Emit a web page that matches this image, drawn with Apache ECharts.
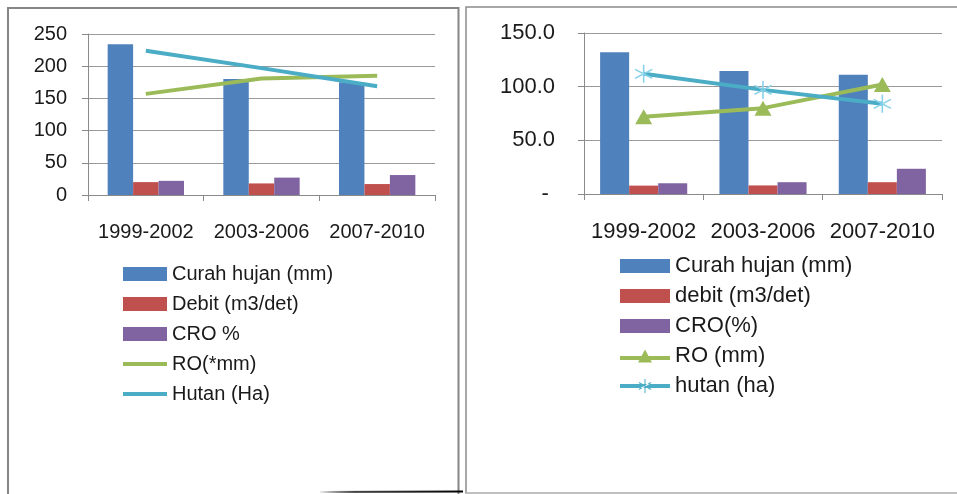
<!DOCTYPE html>
<html>
<head>
<meta charset="utf-8">
<script src="https://cdn.jsdelivr.net/npm/echarts@6/dist/echarts.min.js"></script>
<style>
html,body{margin:0;padding:0;background:#fff;}
#c{width:957px;height:494px;}
</style>
</head>
<body>
<div id="c"></div>
<script>
// ---- data ----
const categories = ['1999-2002', '2003-2006', '2007-2010'];

// left chart
const leftNames = ['Curah hujan (mm)', 'Debit (m3/det)', 'CRO %', 'RO(*mm)', 'Hutan (Ha)'];
const curahL = [234, 180, 175];
const debitL = [20, 18, 17];
const croL = [22, 27, 31];
const roL = [157, 181, 185];
const hutanL = [224, 197, 169];
const leftTicks = [0, 50, 100, 150, 200, 250];

// right chart
const rightNames = ['Curah hujan (mm)', 'debit (m3/det)', 'CRO(%)', 'RO (mm)', 'hutan (ha)'];
const curahR = [132, 114.5, 111];
const debitR = [7.8, 8, 11];
const croR = [10, 11, 23.5];
const roR = [72, 80, 102];
const hutanR = [112, 97, 84];
const rightTicks = [0, 50, 100, 150];

// ---- styles ----
const C = { blue: '#4F81BD', red: '#C0504D', purple: '#8064A2', green: '#9BBB59', cyan: '#4BACC6' };
const FONT = 'Liberation Sans, Arial, sans-serif';
const starPath = 'path://M9.2 0L10.8 0L10.8 20L9.2 20Z' +
  'M19.06 5.69L18.26 4.31L0.94 14.31L1.74 15.69Z' +
  'M0.94 5.69L1.74 4.31L19.06 14.31L18.26 15.69Z';
// legend icons (degenerate subpaths keep the bounding box)
const lineIcon = 'path://M0 0L0.01 0L0 0Z M0 5H44V9H0Z M0 14L0.01 14L0 14Z';
const triIcon = 'path://M0 0L0.01 0L0 0Z M0 7H50V11H0Z M18 13.5L25 0.5L32 13.5Z M0 14L0.01 14L0 14Z';
const starIcon = 'path://M0 0L0.01 0L0 0Z M0 5H50V9H0Z M24.5 0H25.5V14H24.5Z' +
  'M31.31 3.93L30.81 3.07L18.69 10.07L19.19 10.93Z' +
  'M18.69 3.93L19.19 3.07L31.31 10.07L30.81 10.93Z M0 14L0.01 14L0 14Z';

const chart = echarts.init(document.getElementById('c'), null, { renderer: 'canvas' });

function catAxis(gi, fs, margin) {
  return {
    type: 'category', gridIndex: gi, data: categories,
    boundaryGap: true,
    axisLine: { lineStyle: { color: '#8a8a8a', width: 1 } },
    axisTick: { show: true, length: 6, alignWithLabel: false, lineStyle: { color: '#8a8a8a' } },
    axisLabel: { fontFamily: FONT, fontSize: fs, color: '#1a1a1a', margin: margin, interval: 0 }
  };
}
function valAxis(gi, ticks, fs, margin, fmt) {
  return {
    type: 'value', gridIndex: gi,
    min: ticks[0], max: ticks[ticks.length - 1], interval: ticks[1] - ticks[0],
    axisLine: { show: true, lineStyle: { color: '#8a8a8a', width: 1 } },
    axisTick: { show: true, length: 6, lineStyle: { color: '#8a8a8a' } },
    splitLine: { show: true, lineStyle: { color: '#9a9a9a', width: 1 } },
    axisLabel: { fontFamily: FONT, fontSize: fs, color: '#1a1a1a', margin: margin, formatter: fmt }
  };
}

const option = {
  animation: false,
  backgroundColor: '#fff',
  grid: [
    { left: 88, top: 34, width: 347, height: 161 },
    { left: 584, top: 33, width: 358, height: 161 }
  ],
  xAxis: [catAxis(0, 20, 27), catAxis(1, 22, 27)],
  yAxis: [
    valAxis(0, leftTicks, 20, 21, v => String(v)),
    valAxis(1, rightTicks, 22, 29, v => (v === 0 ? '- ' : v.toFixed(1)))
  ],
  legend: [
    {
      orient: 'vertical', left: 123, top: 264, padding: 0, itemWidth: 44, itemHeight: 14, itemGap: 10,
      textStyle: { fontFamily: FONT, fontSize: 20, lineHeight: 20, color: '#1a1a1a' },
      data: [
        { name: leftNames[0], icon: 'rect' },
        { name: leftNames[1], icon: 'rect' },
        { name: leftNames[2], icon: 'rect' },
        { name: leftNames[3], icon: lineIcon },
        { name: leftNames[4], icon: lineIcon }
      ]
    },
    {
      orient: 'vertical', left: 620, top: 255, padding: 0, itemWidth: 50, itemHeight: 14, itemGap: 8,
      textStyle: { fontFamily: FONT, fontSize: 22, lineHeight: 22, color: '#1a1a1a' },
      data: [
        { name: rightNames[0], icon: 'rect' },
        { name: rightNames[1], icon: 'rect' },
        { name: rightNames[2], icon: 'rect' },
        { name: rightNames[3], icon: triIcon },
        { name: rightNames[4], icon: starIcon, itemStyle: { color: C.cyan } }
      ]
    }
  ],
  series: [
    // left
    { name: leftNames[0], type: 'bar', xAxisIndex: 0, yAxisIndex: 0, data: curahL, barGap: '0%', barCategoryGap: '34%', itemStyle: { color: C.blue } },
    { name: leftNames[1], type: 'bar', xAxisIndex: 0, yAxisIndex: 0, data: debitL, barGap: '0%', barCategoryGap: '34%', itemStyle: { color: C.red } },
    { name: leftNames[2], type: 'bar', xAxisIndex: 0, yAxisIndex: 0, data: croL, barGap: '0%', barCategoryGap: '34%', itemStyle: { color: C.purple } },
    { name: leftNames[3], type: 'line', xAxisIndex: 0, yAxisIndex: 0, data: roL, symbol: 'none', z: 5,
      lineStyle: { color: C.green, width: 4 }, itemStyle: { color: C.green } },
    { name: leftNames[4], type: 'line', xAxisIndex: 0, yAxisIndex: 0, data: hutanL, symbol: 'none', z: 5,
      lineStyle: { color: C.cyan, width: 4 }, itemStyle: { color: C.cyan } },
    // right
    { name: rightNames[0], type: 'bar', xAxisIndex: 1, yAxisIndex: 1, data: curahR, barGap: '0%', barCategoryGap: '27%', itemStyle: { color: C.blue } },
    { name: rightNames[1], type: 'bar', xAxisIndex: 1, yAxisIndex: 1, data: debitR, barGap: '0%', barCategoryGap: '27%', itemStyle: { color: C.red } },
    { name: rightNames[2], type: 'bar', xAxisIndex: 1, yAxisIndex: 1, data: croR, barGap: '0%', barCategoryGap: '27%', itemStyle: { color: C.purple } },
    { name: rightNames[3], type: 'line', xAxisIndex: 1, yAxisIndex: 1, data: roR, z: 5,
      symbol: 'triangle', symbolSize: [17, 15], showSymbol: true,
      lineStyle: { color: C.green, width: 4 }, itemStyle: { color: C.green } },
    { name: rightNames[4], type: 'line', xAxisIndex: 1, yAxisIndex: 1, data: hutanR, z: 5,
      symbol: starPath, symbolSize: [18, 18], showSymbol: true,
      lineStyle: { color: C.cyan, width: 4 }, itemStyle: { color: '#86d2ea' } }
  ],
  graphic: [
    // left panel frame
    { type: 'rect', shape: { x: 8, y: 8, width: 450.5, height: 500 }, style: { fill: 'none', stroke: '#868686', lineWidth: 2 }, silent: true, z: 100 },
    // bottom dark line
    { type: 'line', shape: { x1: 320, y1: 492, x2: 463, y2: 491.5 },
      style: { lineWidth: 2, stroke: new echarts.graphic.LinearGradient(0, 0, 1, 0, [
        { offset: 0, color: 'rgba(0,0,0,0)' }, { offset: 0.25, color: '#444' }, { offset: 1, color: '#000' }]) },
      silent: true, z: 101 },
    // right panel frame
    { type: 'rect', shape: { x: 466, y: 7, width: 520, height: 486 }, style: { fill: 'none', stroke: '#8c8c8c', lineWidth: 1.5 }, silent: true, z: 100 },
    { type: 'line', shape: { x1: 466, y1: 493, x2: 957, y2: 493 }, style: { stroke: '#d8d8d8', lineWidth: 1 }, silent: true, z: 101 }
  ]
};
chart.setOption(option);
</script>
</body>
</html>
